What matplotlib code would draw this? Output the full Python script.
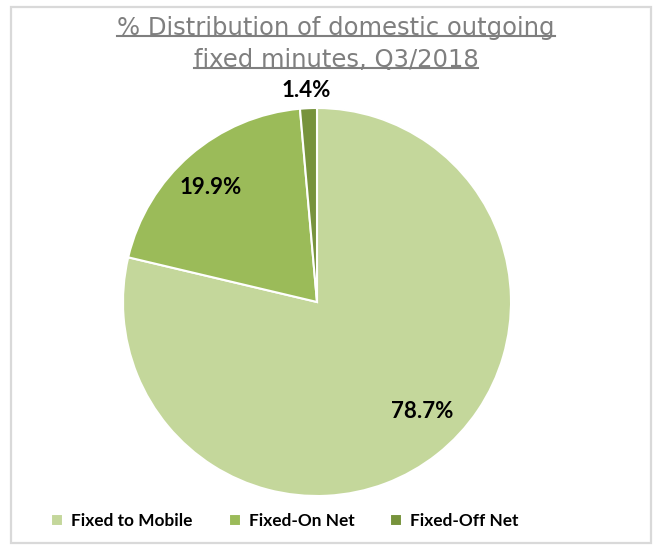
import matplotlib
matplotlib.use("Agg")
import matplotlib.pyplot as plt
from matplotlib.patches import Rectangle
from matplotlib.lines import Line2D

# data
categories = ["Fixed to Mobile", "Fixed-On Net", "Fixed-Off Net"]
shares = [78.7, 19.9, 1.4]
colors = ["#C4D79B", "#9BBB59", "#77933C"]
title_lines = ["% Distribution of domestic outgoing", "fixed minutes, Q3/2018"]

W, H = 654, 545
fig = plt.figure(figsize=(W / 100, H / 100), dpi=100)

# chart border
fig.patches.append(Rectangle((11 / W, 2 / H), 640 / W, 536 / H, transform=fig.transFigure,
                             fill=False, edgecolor="#D9D9D9", linewidth=1.6))

# pie axes: centre (317, 302) px, radius 194 px
cx, cy, r = 317, 302, 194
ax = fig.add_axes([(cx - r) / W, (H - cy - r) / H, 2 * r / W, 2 * r / H])
wedges, texts, autotexts = ax.pie(
    shares, colors=colors, startangle=90, counterclock=False,
    autopct="%.1f%%",
    wedgeprops=dict(edgecolor="white", linewidth=1.5),
    textprops=dict(fontsize=16, fontweight="bold", family="Lato", color="black"),
)
ax.set_xlim(-1, 1)
ax.set_ylim(-1, 1)

# label placement (in units of the radius), as in the original layout
label_pos = [(0.541, -0.567), (-0.546, 0.588), (-0.057, 1.088)]
for t, p in zip(autotexts, label_pos):
    t.set_position(p)

# title with underline
title_y = [28, 60]
title_texts = []
for line, ty in zip(title_lines, title_y):
    t = fig.text(336 / W, 1 - ty / H, line, ha="center", va="center",
                 fontsize=17.5, color="#7F7F7F", family="DejaVu Sans")
    title_texts.append(t)

fig.canvas.draw()
renderer = fig.canvas.get_renderer()
for t in title_texts:
    bb = t.get_window_extent(renderer)
    yline = (bb.y0 + 4) / H
    fig.lines.append(Line2D([bb.x0 / W, bb.x1 / W], [yline, yline], transform=fig.transFigure,
                            color="#7F7F7F", linewidth=1.5))

# legend
leg = fig.legend(wedges, categories, loc="center", bbox_to_anchor=(285 / W, 1 - 521 / H),
                 ncol=3, frameon=False, handlelength=0.7, handleheight=0.7,
                 handletextpad=0.45, columnspacing=2.1,
                 prop=dict(family="Lato", weight="bold", size=12.4))

fig.savefig("out.png", dpi=100)
